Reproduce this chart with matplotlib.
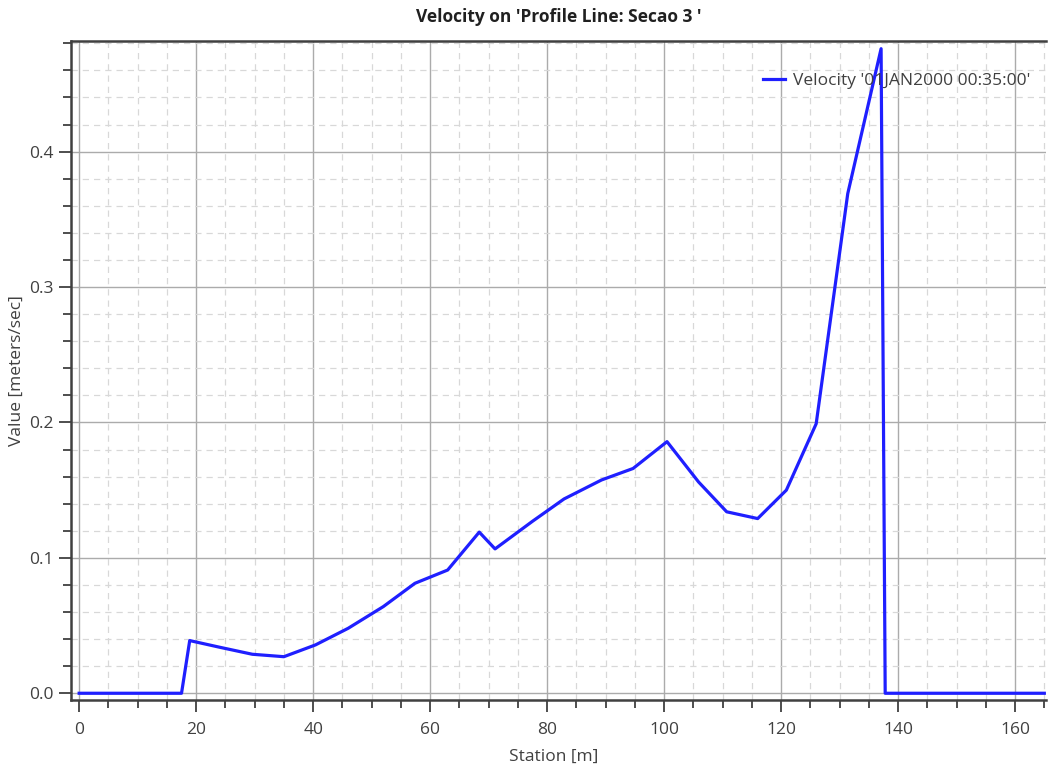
import matplotlib
matplotlib.use("Agg")
import matplotlib.pyplot as plt
from matplotlib.ticker import MultipleLocator

# 데이터
station = [0.0, 17.5, 18.9, 24.0, 29.6, 35.0, 40.4, 46.0, 52.0, 57.4, 63.0,
           68.4, 71.1, 77.5, 82.9, 89.3, 94.7, 100.5, 105.9, 110.7, 116.0,
           120.9, 126.0, 131.4, 137.1, 137.8, 165.0]
velocity = [0.0, 0.0, 0.0389, 0.034, 0.0288, 0.027, 0.0357, 0.048, 0.064, 0.0812,
            0.091, 0.119, 0.1066, 0.127, 0.1435, 0.1575, 0.166, 0.1858, 0.156,
            0.134, 0.129, 0.150, 0.199, 0.369, 0.476, 0.0, 0.0]

title = "Velocity on 'Profile Line: Secao 3 '"
series_label = "Velocity '01JAN2000 00:35:00'"
x_label = "Station [m]"
y_label = "Value [meters/sec]"

plt.rcParams["font.family"] = ["Open Sans", "DejaVu Sans"]
text_color = "#404040"
fs = 12.5

fig = plt.figure(figsize=(10.53, 7.73), dpi=100)
ax = fig.add_axes([0.0674, 0.0944, 0.926, 0.8526])

ax.plot(station, velocity, color="#1f1fff", linewidth=2.3, label=series_label)

ax.set_xlim(-1.4, 165.3)
ax.set_ylim(-0.005, 0.4817)

ax.xaxis.set_major_locator(MultipleLocator(20))
ax.xaxis.set_minor_locator(MultipleLocator(5))
ax.yaxis.set_major_locator(MultipleLocator(0.1))
ax.yaxis.set_minor_locator(MultipleLocator(0.02))
ax.yaxis.set_major_formatter(lambda v, p: f"{v:.1f}")

ax.grid(which="major", color="#ababab", linestyle="-", linewidth=1.0)
ax.grid(which="minor", color="#d8d8d8", linestyle=(0, (5, 4)), linewidth=0.9)
ax.set_axisbelow(True)

ax.tick_params(which="major", length=8.6, width=1.3, color=text_color,
               labelsize=fs, labelcolor=text_color)
ax.tick_params(axis="x", which="major", pad=7)
ax.tick_params(axis="y", which="major", pad=4)
ax.tick_params(which="minor", length=5.5, width=1.3, color=text_color)

for side in ("left", "bottom", "top"):
    ax.spines[side].set_color(text_color)
    ax.spines[side].set_linewidth(1.8)
ax.spines["right"].set_visible(False)

ax.set_title(title, fontsize=12.5, weight="bold", color="#202020", pad=14)
ax.set_xlabel(x_label, fontsize=fs, color=text_color)
ax.set_ylabel(y_label, fontsize=fs, color=text_color)
ax.xaxis.set_label_coords(0.495, -0.074)
ax.yaxis.set_label_coords(-0.0476, 0.5)

ax.legend(loc="upper right", bbox_to_anchor=(1.0, 0.975), frameon=False,
          fontsize=fs, labelcolor=text_color, handlelength=1.3, handletextpad=0.45)

fig.savefig("out.png", dpi=100)
